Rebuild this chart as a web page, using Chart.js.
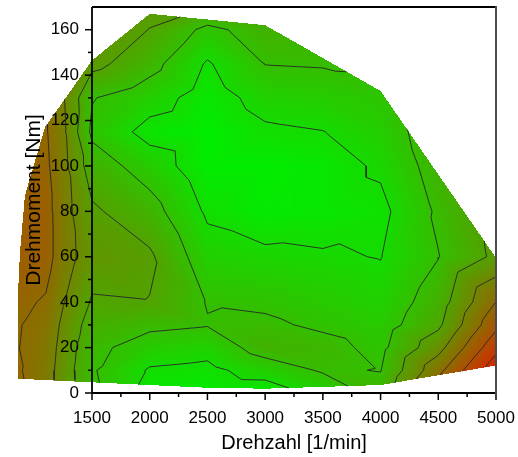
<!DOCTYPE html>
<html>
<head>
<meta charset="utf-8">
<script src="https://cdn.jsdelivr.net/npm/chart.js@4.4.1/dist/chart.umd.min.js"></script>
<style>
  html, body { margin: 0; padding: 0; background: #fff; }
  #wrap { width: 518px; height: 457px; }
</style>
</head>
<body>
<div id="wrap"><canvas id="kennfeld"></canvas></div>
<script>
  // ── MESSRASTER ──
  // Drehzahl-Stützstellen [1/min] und Drehmoment-Stützstellen [Nm]
  const drehzahl = [860, 1100, 1250, 1500, 2000, 2500, 3000, 3500, 4000, 4500, 5000];
  const moment = [0, 10, 20, 30, 40, 60, 80, 100, 115, 130, 145, 160, 170];

  // Kennwert je Drehzahl, von 0 Nm aufwärts (gleiche Reihenfolge wie "moment")
  const wert860  = [5.2, 5.1, 5.02, 5.05, 5.2, 5.45, 5.45, 5.3, 5.15, 5.05, 4.95, 4.9, 4.9];
  const wert1100 = [4.4, 4.45, 4.55, 4.7, 4.9, 5.4, 5.4, 5.2, 5.1, 4.98, 4.85, 4.8, 4.8];
  const wert1250 = [3.5, 3.55, 3.65, 3.8, 4.05, 4.45, 4.4, 4.3, 4.2, 4.1, 4.02, 3.95, 3.95];
  const wert1500 = [2.2, 2.1, 2.25, 2.55, 2.9, 3.45, 3.15, 2.5, 1.8, 2.05, 3.3, 3.8, 4.1];
  const wert2000 = [0.55, 0.9, 1.55, 2.2, 2.97, 3.15, 2.4, 1.55, 0.65, 1.45, 2.35, 2.97, 3.35];
  const wert2500 = [0.35, 0.75, 1.35, 2.05, 1.95, 1.4, 0.85, 0.35, 0.3, 0.55, 0.9, 1.75, 3.0];
  const wert3000 = [0.4, 1.45, 2.45, 2.15, 1.85, 1.2, 0.45, 0.35, 0.85, 1.35, 2.02, 2.45, 2.8];
  const wert3500 = [1.3, 2.1, 2.3, 1.85, 1.6, 1.1, 0.55, 0.55, 0.98, 1.5, 2.07, 2.5, 2.7];
  const wert4000 = [2.35, 1.97, 1.75, 1.55, 1.35, 0.97, 0.75, 1.15, 1.45, 1.75, 2.1, 2.5, 2.8];
  const wert4500 = [5.6, 4.7, 3.65, 2.8, 2.5, 1.97, 2.15, 2.45, 2.6, 2.8, 3.1, 3.4, 3.6];
  const wert5000 = [9.0, 7.7, 6.7, 5.75, 5.02, 3.2, 3.3, 3.4, 3.5, 3.6, 3.7, 3.8, 3.9];
  const spalten = [wert860, wert1100, wert1250, wert1500, wert2000, wert2500, wert3000,
                   wert3500, wert4000, wert4500, wert5000];

  // Randkurve des vermessenen Bereichs (Volllast oben, Schlepp/Leerlauf unten)
  const huellDrehzahl = [860, 860, 876, 919, 1092, 1500, 2000, 3000, 4000, 5000, 5000, 4000, 3000, 2500, 1500];
  const huellMoment   = [6.3, 45, 62, 87, 117, 146.5, 167, 162, 133, 59.5, 12.1, 3.5, 1.9, 2.3, 4.7];

  // Höhenlinien und Farbskala
  const konturStufen = [1, 2, 3, 4, 5, 6, 7];
  const farbMin = 0.3, farbMax = 8.0;
  const gruen = [0, 238, 0], rot = [234, 22, 0];

  const huelle = huellDrehzahl.map((n, k) => [n, huellMoment[k]]);

  // Umlaufsinn der Hülle (für Innen-Normalen)
  let flaeche = 0;
  huelle.forEach((p, k) => {
    const q = huelle[(k + 1) % huelle.length];
    flaeche += p[0] * q[1] - q[0] * p[1];
  });
  const sgn = flaeche > 0 ? 1 : -1;

  function innen(n, m) {
    for (let k = 0; k < huelle.length; k++) {
      const p = huelle[k], q = huelle[(k + 1) % huelle.length];
      const c = (q[0] - p[0]) * (m - p[1]) - (q[1] - p[1]) * (n - p[0]);
      if (c * sgn < 0) return false;
    }
    return true;
  }

  // Strecke an der konvexen Hülle abschneiden (Cyrus-Beck)
  function abschneiden(a, b) {
    let t0 = 0, t1 = 1;
    const dx = b[0] - a[0], dy = b[1] - a[1];
    for (let k = 0; k < huelle.length; k++) {
      const p = huelle[k], q = huelle[(k + 1) % huelle.length];
      const nx = -(q[1] - p[1]) * sgn, ny = (q[0] - p[0]) * sgn;
      const num = nx * (a[0] - p[0]) + ny * (a[1] - p[1]);
      const den = nx * dx + ny * dy;
      if (den === 0) { if (num < 0) return null; continue; }
      const t = -num / den;
      if (den > 0) t0 = Math.max(t0, t); else t1 = Math.min(t1, t);
      if (t0 >= t1) return null;
    }
    return [[a[0] + t0 * dx, a[1] + t0 * dy], [a[0] + t1 * dx, a[1] + t1 * dy]];
  }

  function suche(arr, v) {
    let i = 0;
    while (i < arr.length - 2 && v > arr[i + 1]) i++;
    return i;
  }

  // Zelle wird entlang der Diagonale mit der größeren Summe geteilt (Kämme bleiben zusammenhängend)
  function diagonaleSteigend(i, j) {
    return spalten[i][j] + spalten[i + 1][j + 1] >= spalten[i + 1][j] + spalten[i][j + 1];
  }

  // lineare Interpolation im Dreiecksnetz
  function wertBei(n, m) {
    const i = suche(drehzahl, n), j = suche(moment, m);
    const u = Math.min(1, Math.max(0, (n - drehzahl[i]) / (drehzahl[i + 1] - drehzahl[i])));
    const v = Math.min(1, Math.max(0, (m - moment[j]) / (moment[j + 1] - moment[j])));
    const z00 = spalten[i][j], z10 = spalten[i + 1][j], z01 = spalten[i][j + 1], z11 = spalten[i + 1][j + 1];
    if (diagonaleSteigend(i, j)) {
      if (u >= v) return z00 + u * (z10 - z00) + v * (z11 - z10);
      return z00 + v * (z01 - z00) + u * (z11 - z01);
    }
    if (u + v <= 1) return z00 + u * (z10 - z00) + v * (z01 - z00);
    return z11 + (1 - u) * (z01 - z11) + (1 - v) * (z10 - z11);
  }

  // Höhenlinie einer Stufe als Punktliste, Teilstücke durch Lücken getrennt
  function konturPunkte(stufe) {
    const out = [];
    for (let i = 0; i < drehzahl.length - 1; i++) {
      for (let j = 0; j < moment.length - 1; j++) {
        const p00 = [drehzahl[i], moment[j], spalten[i][j]];
        const p10 = [drehzahl[i + 1], moment[j], spalten[i + 1][j]];
        const p01 = [drehzahl[i], moment[j + 1], spalten[i][j + 1]];
        const p11 = [drehzahl[i + 1], moment[j + 1], spalten[i + 1][j + 1]];
        const dreiecke = diagonaleSteigend(i, j)
          ? [[p00, p10, p11], [p00, p01, p11]]
          : [[p00, p10, p01], [p10, p11, p01]];
        dreiecke.forEach(tri => {
          const pts = [];
          for (let k = 0; k < 3; k++) {
            const a = tri[k], b = tri[(k + 1) % 3];
            if ((a[2] < stufe) !== (b[2] < stufe)) {
              const f = (stufe - a[2]) / (b[2] - a[2]);
              pts.push([a[0] + f * (b[0] - a[0]), a[1] + f * (b[1] - a[1])]);
            }
          }
          if (pts.length !== 2) return;
          const s = abschneiden(pts[0], pts[1]);
          if (!s) return;
          out.push({ x: s[0][0], y: s[0][1] }, { x: s[1][0], y: s[1][1] }, { x: null, y: null });
        });
      }
    }
    return out;
  }

  // ── FARBFLÄCHE + ACHSRAHMEN ──
  const kennfeldPlugin = {
    id: 'kennfeld',
    beforeDraw(chart) {
      const { ctx, scales: { x, y } } = chart;
      const px = huellDrehzahl.map(n => x.getPixelForValue(n));
      const py = huellMoment.map(m => y.getPixelForValue(m));
      const x0 = Math.floor(Math.min(...px)), x1 = Math.ceil(Math.max(...px));
      const y0 = Math.floor(Math.min(...py)), y1 = Math.ceil(Math.max(...py));
      const w = x1 - x0, h = y1 - y0;
      const off = document.createElement('canvas');
      off.width = w; off.height = h;
      const octx = off.getContext('2d');
      const img = octx.createImageData(w, h);
      for (let r = 0; r < h; r++) {
        const m = y.getValueForPixel(y0 + r + 0.5);
        for (let c = 0; c < w; c++) {
          const n = x.getValueForPixel(x0 + c + 0.5);
          if (!innen(n, m)) continue;
          const t = Math.min(1, Math.max(0, (wertBei(n, m) - farbMin) / (farbMax - farbMin)));
          const o = (r * w + c) * 4;
          img.data[o] = gruen[0] + t * (rot[0] - gruen[0]);
          img.data[o + 1] = gruen[1] + t * (rot[1] - gruen[1]);
          img.data[o + 2] = gruen[2] + t * (rot[2] - gruen[2]);
          img.data[o + 3] = 255;
        }
      }
      octx.putImageData(img, 0, 0);
      ctx.drawImage(off, x0, y0);
    },
    afterDraw(chart) {
      const { ctx, chartArea: a, scales: { x, y } } = chart;
      ctx.save();
      ctx.lineCap = 'butt';
      ctx.strokeStyle = '#000';
      ctx.lineWidth = 1.5;
      const strich = (xa, ya, xb, yb) => { ctx.beginPath(); ctx.moveTo(xa, ya); ctx.lineTo(xb, yb); ctx.stroke(); };

      const yt = y.ticks.map(t => t.value);
      yt.forEach(v => {
        const p = y.getPixelForValue(v);
        strich(a.left - 7, p, a.left, p);
        const mid = y.getPixelForValue(v + (yt[1] - yt[0]) / 2);
        if (mid > a.top + 1) strich(a.left - 4, mid, a.left, mid);
      });
      const xt = x.ticks.map(t => t.value);
      xt.forEach((v, k) => {
        const p = x.getPixelForValue(v);
        strich(p, a.bottom, p, a.bottom + 7);
        if (k < xt.length - 1) {
          const mid = x.getPixelForValue(v + (xt[1] - xt[0]) / 2);
          strich(mid, a.bottom, mid, a.bottom + 4);
        }
      });

      ctx.lineWidth = 1.8;
      strich(a.left, a.top, a.left, a.bottom + 0.9);
      strich(a.left - 0.9, a.bottom, a.right + 1, a.bottom);
      strich(a.left, a.top, a.right, a.top);
      ctx.strokeStyle = '#4a4a4a';
      ctx.lineWidth = 2;
      strich(a.right, a.top - 0.9, a.right, a.bottom + 1);
      ctx.restore();
    }
  };

  const schrift = 'Liberation Sans, Arial, sans-serif';

  new Chart(document.getElementById('kennfeld'), {
    type: 'scatter',
    data: {
      datasets: konturStufen.map(s => ({
        label: 'Stufe ' + s,
        data: konturPunkte(s),
        showLine: true,
        spanGaps: false,
        pointRadius: 0,
        borderColor: 'rgba(40,40,40,0.9)',
        borderWidth: 1,
        clip: false
      }))
    },
    options: {
      responsive: true,
      maintainAspectRatio: false,
      animation: false,
      layout: { padding: { top: 7, right: 22, left: 0, bottom: 0 } },
      plugins: { legend: { display: false }, tooltip: { enabled: false } },
      scales: {
        x: {
          type: 'linear', min: 1500, max: 5000, z: 1,
          grid: { display: false, drawTicks: false }, border: { display: false },
          ticks: {
            stepSize: 500, includeBounds: false, padding: 15, maxRotation: 0, color: '#000',
            font: { family: schrift, size: 17 },
            callback: v => String(v)
          },
          title: {
            display: true, text: 'Drehzahl [1/min]', color: '#000',
            font: { family: schrift, size: 20 }, padding: { top: 0, bottom: 2 }
          },
          afterFit: s => { s.height = 64; s.paddingLeft = 0; s.paddingRight = 0; }
        },
        y: {
          type: 'linear', min: 0, max: 170, z: 1,
          grid: { display: false, drawTicks: false }, border: { display: false },
          ticks: {
            stepSize: 20, includeBounds: false, padding: 13, color: '#000',
            font: { family: schrift, size: 17 },
            callback: v => String(v)
          },
          title: {
            display: true, text: 'Drehmoment [Nm]', color: '#000',
            font: { family: schrift, size: 21 }, padding: { top: 22, bottom: 0 }
          },
          afterFit: s => { s.width = 92; s.paddingTop = 0; s.paddingBottom = 0; }
        }
      }
    },
    plugins: [kennfeldPlugin]
  });
</script>
</body>
</html>
